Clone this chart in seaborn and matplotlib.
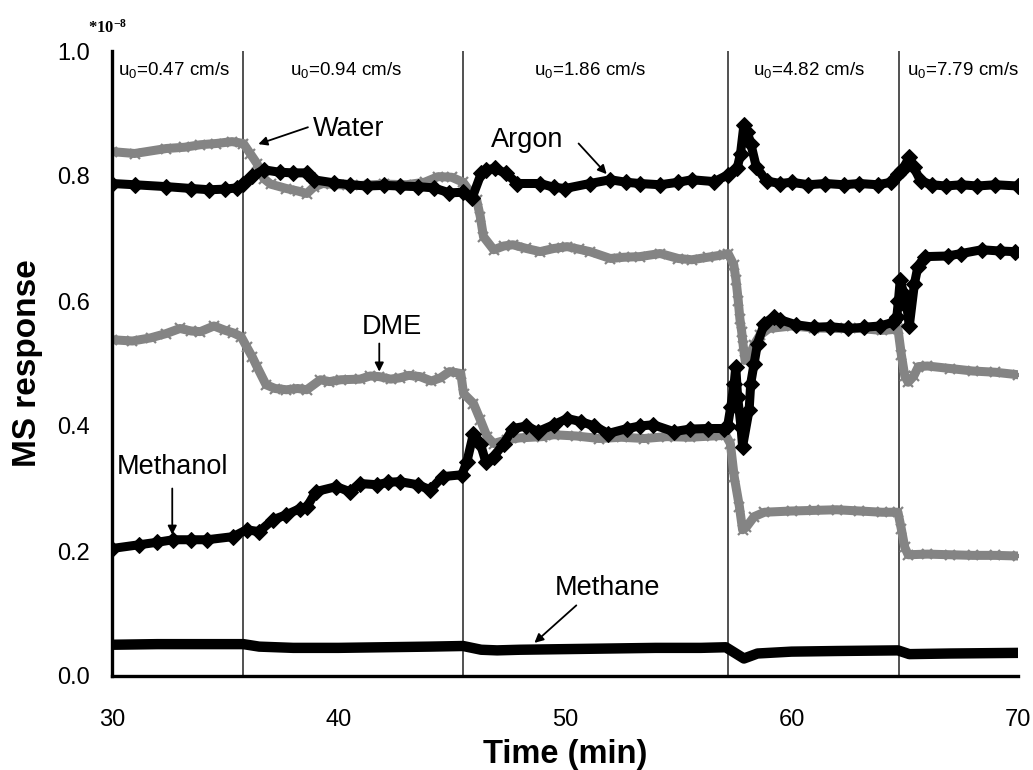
import numpy as np
import matplotlib
matplotlib.use("Agg")
import matplotlib.pyplot as plt
import seaborn as sns

sns.set_style("white")
plt.rcParams['font.family'] = ['Liberation Sans', 'DejaVu Sans']
plt.rcParams['mathtext.default'] = 'regular'
plt.rcParams['text.color'] = 'black'
plt.rcParams['axes.labelcolor'] = 'black'

# --- data (MS response in units of 1e-8) ---
argon_t = [30.0, 31.0, 32.4, 33.5, 34.3, 35.0, 35.5, 35.8, 36.2, 36.7, 37.4, 38.0, 38.6, 38.9,
           39.8, 40.5, 41.25, 42.0, 42.7, 43.5, 44.2, 44.9, 45.5, 45.9, 46.3, 46.5, 46.9, 47.4,
           47.9, 48.9, 49.5, 50.0, 51.1, 52.0, 52.7, 53.3, 54.2, 55.0, 55.6, 56.6, 57.2, 57.6,
           57.75, 57.9, 58.05, 58.2, 58.45, 58.9, 59.5, 60.0, 60.75, 61.5, 62.3, 63.0, 63.8,
           64.4, 64.7, 64.9, 65.2, 65.4, 65.7, 66.2, 66.8, 67.5, 68.2, 69.0, 70.0]
argon_v = [0.788, 0.786, 0.783, 0.780, 0.778, 0.779, 0.781, 0.788, 0.800, 0.810, 0.806, 0.805,
           0.805, 0.794, 0.789, 0.786, 0.784, 0.785, 0.784, 0.783, 0.781, 0.773, 0.774, 0.765,
           0.804, 0.810, 0.812, 0.804, 0.788, 0.788, 0.782, 0.780, 0.788, 0.794, 0.790, 0.788,
           0.786, 0.790, 0.794, 0.791, 0.802, 0.812, 0.836, 0.882, 0.870, 0.852, 0.814, 0.792,
           0.788, 0.790, 0.786, 0.788, 0.786, 0.788, 0.786, 0.790, 0.803, 0.810, 0.830, 0.814,
           0.792, 0.786, 0.784, 0.786, 0.784, 0.786, 0.784]

water_t = [30.0, 31.0, 32.4, 33.2, 33.9, 34.6, 35.3, 35.8, 36.1, 36.4, 36.7, 37.0, 37.7, 38.2,
           38.6, 38.9, 39.3, 40.0, 41.0, 42.0, 43.0, 43.8, 44.4, 45.0, 45.5, 45.8, 46.1, 46.26,
           46.4, 46.85, 47.3, 47.7, 48.3, 48.9, 49.5, 50.1, 50.6, 51.1, 52.0, 52.6, 53.3, 54.2,
           55.0, 55.6, 56.3, 57.0, 57.2, 57.45, 57.55, 57.65, 57.72, 57.8, 57.87, 57.95, 58.1,
           58.35, 58.6, 59.0, 60.0, 61.0, 62.0, 63.0, 64.0, 64.7, 64.85, 65.0, 65.15, 65.4,
           65.6, 66.0, 67.0, 68.0, 69.0, 70.0]
water_v = [0.839, 0.836, 0.844, 0.846, 0.850, 0.852, 0.855, 0.852, 0.836, 0.820, 0.796, 0.787,
           0.780, 0.776, 0.772, 0.782, 0.788, 0.786, 0.785, 0.787, 0.786, 0.790, 0.799, 0.798,
           0.790, 0.775, 0.762, 0.735, 0.703, 0.682, 0.688, 0.690, 0.684, 0.679, 0.684, 0.687,
           0.683, 0.679, 0.668, 0.670, 0.671, 0.676, 0.668, 0.666, 0.670, 0.674, 0.676, 0.658,
           0.634, 0.600, 0.572, 0.551, 0.528, 0.505, 0.508, 0.530, 0.545, 0.556, 0.560, 0.557,
           0.556, 0.556, 0.553, 0.555, 0.514, 0.480, 0.470, 0.480, 0.495, 0.496, 0.492, 0.488,
           0.486, 0.482]

dme_t = [30.0, 30.9, 31.7, 32.4, 33.0, 33.5, 33.9, 34.5, 35.0, 35.35, 35.7, 35.94, 36.2, 36.4,
         36.8, 37.2, 37.7, 38.2, 38.6, 39.2, 39.6, 40.1, 40.95, 41.4, 41.8, 42.3, 42.7, 43.1,
         43.6, 44.1, 44.5, 44.9, 45.4, 45.52, 45.96, 46.26, 46.56, 46.85, 47.44, 48.0, 49.0,
         49.5, 50.5, 51.5, 52.5, 53.5, 54.5, 55.5, 56.5, 57.1, 57.3, 57.47, 57.7, 57.84, 58.0,
         58.35, 58.8, 60.0, 61.0, 62.0, 63.0, 64.0, 64.7, 64.85, 65.0, 65.15, 66.0, 67.0, 68.0,
         69.0, 70.0]
dme_v = [0.538, 0.536, 0.541, 0.548, 0.556, 0.552, 0.551, 0.560, 0.553, 0.549, 0.543, 0.527,
         0.510, 0.495, 0.466, 0.460, 0.458, 0.460, 0.458, 0.474, 0.471, 0.474, 0.475, 0.480,
         0.479, 0.475, 0.477, 0.481, 0.479, 0.472, 0.477, 0.487, 0.484, 0.452, 0.436, 0.410,
         0.383, 0.372, 0.378, 0.381, 0.383, 0.386, 0.384, 0.380, 0.382, 0.380, 0.383, 0.382,
         0.384, 0.385, 0.372, 0.319, 0.271, 0.234, 0.238, 0.255, 0.262, 0.264, 0.265, 0.266,
         0.264, 0.262, 0.262, 0.235, 0.206, 0.194, 0.195, 0.194, 0.193, 0.193, 0.192]

methanol_t = [30.0, 31.2, 32.0, 32.7, 33.5, 34.2, 35.35, 35.94, 36.5, 37.1, 37.7, 38.3, 38.6,
              39.0, 39.9, 40.5, 40.95, 41.7, 42.2, 42.7, 43.5, 44.05, 44.6, 45.45, 45.67, 45.96,
              46.26, 46.5, 46.85, 47.3, 47.7, 48.3, 48.8, 49.5, 50.1, 50.7, 51.3, 51.9, 52.75,
              53.3, 53.9, 54.8, 55.5, 56.3, 57.0, 57.18, 57.32, 57.47, 57.54, 57.62, 57.77,
              57.84, 58.13, 58.2, 58.35, 58.5, 58.8, 59.24, 59.5, 60.2, 61.0, 61.7, 62.5, 63.2,
              63.9, 64.5, 64.65, 64.72, 64.8, 64.95, 65.1, 65.2, 65.43, 65.58, 65.88, 66.9, 67.5,
              68.4, 69.2, 69.86]
methanol_v = [0.204, 0.210, 0.214, 0.218, 0.218, 0.218, 0.223, 0.234, 0.231, 0.250, 0.258,
              0.268, 0.270, 0.295, 0.303, 0.295, 0.308, 0.306, 0.310, 0.311, 0.306, 0.298,
              0.319, 0.322, 0.343, 0.388, 0.372, 0.343, 0.351, 0.372, 0.396, 0.400, 0.391,
              0.402, 0.412, 0.407, 0.400, 0.388, 0.396, 0.400, 0.402, 0.391, 0.395, 0.396,
              0.396, 0.400, 0.431, 0.468, 0.495, 0.447, 0.399, 0.367, 0.426, 0.468, 0.500,
              0.532, 0.564, 0.575, 0.570, 0.562, 0.558, 0.559, 0.556, 0.558, 0.560, 0.566,
              0.575, 0.600, 0.634, 0.612, 0.590, 0.560, 0.628, 0.655, 0.671, 0.672, 0.676,
              0.682, 0.680, 0.679]

methane_t = [30.0, 32.0, 34.0, 35.8, 36.5, 38.0, 40.0, 42.0, 44.0, 45.5, 46.3, 47.0, 48.0,
             50.0, 52.0, 54.0, 56.0, 57.1, 57.5, 57.9, 58.5, 60.0, 62.0, 64.7, 65.2, 67.0, 70.0]
methane_v = [0.050, 0.051, 0.051, 0.051, 0.047, 0.045, 0.045, 0.046, 0.047, 0.048, 0.042,
             0.041, 0.042, 0.043, 0.044, 0.045, 0.045, 0.046, 0.037, 0.028, 0.036, 0.039,
             0.040, 0.041, 0.035, 0.036, 0.037]

phase_bounds = [35.8, 45.5, 57.2, 64.75]
phase_labels = ['u$_0$=0.47 cm/s', 'u$_0$=0.94 cm/s', 'u$_0$=1.86 cm/s',
                'u$_0$=4.82 cm/s', 'u$_0$=7.79 cm/s']
phase_label_t = [32.75, 40.35, 51.12, 60.79, 67.59]

fig = plt.figure(figsize=(10.33, 7.70), dpi=100)
ax = fig.add_axes([112 / 1033, 1 - 676 / 770, 906 / 1033, 625 / 770])

gray = '#848484'
# gray series (x markers)
for t, v in [(water_t, water_v), (dme_t, dme_v)]:
    sns.lineplot(x=t, y=v, ax=ax, color=gray, linewidth=6.5, marker='x', markersize=7.5,
                 markeredgewidth=1.6, markeredgecolor=gray, sort=False, estimator=None,
                 zorder=2)

# black series (diamond markers)
for t, v in [(argon_t, argon_v), (methanol_t, methanol_v)]:
    sns.lineplot(x=t, y=v, ax=ax, color='black', linewidth=6.5, marker='D', markersize=8.5,
                 markeredgecolor='black', sort=False, estimator=None, zorder=3)

sns.lineplot(x=methane_t, y=methane_v, ax=ax, color='black', linewidth=7.5, sort=False,
             estimator=None, zorder=3)

ax.vlines(phase_bounds, 0, 1.0, colors='#222222', linewidth=1.1, zorder=1)

for t, s in zip(phase_label_t, phase_labels):
    ax.text(t, 0.97, s, ha='center', va='center', fontsize=13.5, color='black')

# series labels with arrows
arrow = dict(arrowstyle='-|>', color='black', lw=1.3, mutation_scale=13, shrinkA=0, shrinkB=0)
ax.text(38.85, 0.876, 'Water', ha='left', va='center', fontsize=19.5)
ax.annotate('', xy=(36.46, 0.851), xytext=(38.65, 0.878), arrowprops=arrow)
ax.text(48.35, 0.858, 'Argon', ha='center', va='center', fontsize=19.5)
ax.annotate('', xy=(51.84, 0.803), xytext=(50.6, 0.852), arrowprops=arrow)
ax.text(42.34, 0.559, 'DME', ha='center', va='center', fontsize=19.5)
ax.annotate('', xy=(41.8, 0.487), xytext=(41.8, 0.532), arrowprops=arrow)
ax.text(32.65, 0.334, 'Methanol', ha='center', va='center', fontsize=19.5)
ax.annotate('', xy=(32.66, 0.226), xytext=(32.66, 0.300), arrowprops=arrow)
ax.text(51.86, 0.141, 'Methane', ha='center', va='center', fontsize=19.5)
ax.annotate('', xy=(48.65, 0.053), xytext=(50.5, 0.113), arrowprops=arrow)

ax.set_xlim(30, 70)
ax.set_ylim(0, 1.0)
ax.set_xticks([30, 40, 50, 60, 70])
ax.set_yticks([0.0, 0.2, 0.4, 0.6, 0.8, 1.0])
ax.set_yticklabels(['0.0', '0.2', '0.4', '0.6', '0.8', '1.0'])

for side in ['top', 'right']:
    ax.spines[side].set_visible(False)
for side in ['left', 'bottom']:
    ax.spines[side].set_linewidth(2.4)
    ax.spines[side].set_color('black')

ax.tick_params(axis='both', direction='out', length=7, width=2.4, labelsize=17,
               color='black', labelcolor='black')
ax.tick_params(axis='x', pad=17)
ax.tick_params(axis='y', pad=9)

ax.set_xlabel('Time (min)', fontsize=23.5, fontweight='bold')
ax.set_ylabel('MS response', fontsize=24, fontweight='bold')
ax.xaxis.set_label_coords(0.5, -0.1)
ax.yaxis.set_label_coords(-0.076, 0.5)

fig.text(88 / 1033, 1 - 37 / 770, r'*10$^{-8}$', ha='left', va='bottom', fontsize=12,
         fontweight='bold', family=['Liberation Serif', 'DejaVu Serif'])

fig.savefig('out.png', dpi=100)
